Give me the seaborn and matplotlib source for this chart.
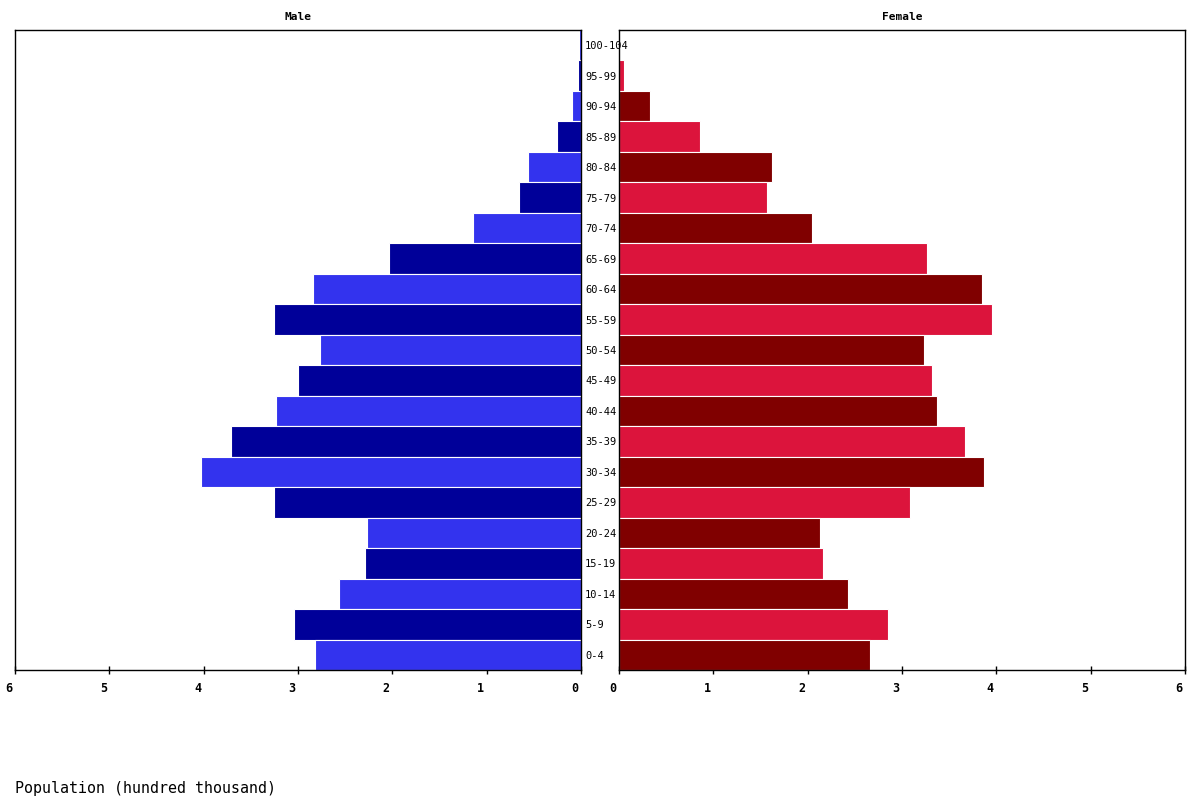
import matplotlib
matplotlib.use("Agg")
import matplotlib.pyplot as plt
import matplotlib.transforms as mtransforms
import seaborn as sns
import pandas as pd

ages = ["100-104", "95-99", "90-94", "85-89", "80-84", "75-79", "70-74",
        "65-69", "60-64", "55-59", "50-54", "45-49", "40-44", "35-39",
        "30-34", "25-29", "20-24", "15-19", "10-14", "5-9", "0-4"]
male = [0.025, 0.03, 0.10, 0.25, 0.56, 0.66, 1.15,
        2.04, 2.84, 3.25, 2.77, 3.00, 3.23, 3.71,
        4.03, 3.25, 2.27, 2.29, 2.57, 3.04, 2.82]
female = [0.015, 0.057, 0.33, 0.855, 1.62, 1.57, 2.05,
          3.27, 3.85, 3.95, 3.23, 3.32, 3.37, 3.67,
          3.87, 3.09, 2.13, 2.16, 2.43, 2.85, 2.66]
x_ticks = [0, 1, 2, 3, 4, 5, 6]

male_light, male_dark = "#3333EE", "#000099"
fem_light, fem_dark = "#DC143C", "#800000"
n = len(ages)
# index from bottom (0-4 is index 0)
male_pal = [male_light if (n - 1 - i) % 2 == 0 else male_dark for i in range(n)]
fem_pal = [fem_dark if (n - 1 - i) % 2 == 0 else fem_light for i in range(n)]

df = pd.DataFrame({"age": ages, "male": male, "female": female})

sns.set_theme(style="white")
plt.rcParams["font.family"] = ["DejaVu Sans Mono", "DejaVu Sans"]
plt.rcParams["text.color"] = "black"
plt.rcParams["xtick.color"] = "black"
plt.rcParams["ytick.color"] = "black"
plt.rcParams["axes.labelcolor"] = "black"

fig = plt.figure(figsize=(12, 8), dpi=100)
ax_m = fig.add_axes([15 / 1200, 1 - 670 / 800, 566 / 1200, 640 / 800])
ax_f = fig.add_axes([619 / 1200, 1 - 670 / 800, 566 / 1200, 640 / 800])
ax_m.set_zorder(3)

sns.barplot(data=df, x="male", y="age", hue="age", order=ages, hue_order=ages,
            palette=male_pal, saturation=1, legend=False, orient="h", width=1.0,
            edgecolor="white", linewidth=0.8, ax=ax_m)
sns.barplot(data=df, x="female", y="age", hue="age", order=ages, hue_order=ages,
            palette=fem_pal, saturation=1, legend=False, orient="h", width=1.0,
            edgecolor="white", linewidth=0.8, ax=ax_f)

ax_m.set_xlim(6, 0)
ax_f.set_xlim(0, 6)
ax_m.set_ylim(n - 0.5, -0.5)
ax_f.set_ylim(n - 0.5, -0.5)

for ax in (ax_m, ax_f):
    ax.set_xticks(x_ticks)
    ax.set_xticklabels([str(t) for t in x_ticks], fontsize=8.5, fontweight="bold",
                       color="black")
    ax.tick_params(axis="x", direction="inout", length=6, width=1, color="black",
                   bottom=True, pad=6)
    ax.set_xlabel("")
    ax.set_ylabel("")
    for s in ax.spines.values():
        s.set_color("black")
        s.set_linewidth(1)
    off = mtransforms.ScaledTranslation(-6 / 100, 0, fig.dpi_scale_trans)
    for lab in ax.get_xticklabels():
        lab.set_transform(lab.get_transform() + off)

# age labels on right side of male axis, left aligned
ax_m.yaxis.tick_right()
ax_m.set_yticks(range(n))
ax_m.set_yticklabels(ages, fontsize=7.5, ha="left", color="black")
ax_m.tick_params(axis="y", length=0, pad=3, right=False, labelright=True,
                 left=False, labelleft=False)
ax_f.set_yticks([])

ax_m.set_title("Male", fontsize=8, fontweight="bold", pad=7, color="black")
ax_f.set_title("Female", fontsize=8, fontweight="bold", pad=7, color="black")

fig.text(15 / 1200, 1 - 788 / 800, "Population (hundred thousand)", fontsize=10.8,
         ha="left", va="center", color="black")

fig.savefig("out.png", dpi=100, facecolor="white")
